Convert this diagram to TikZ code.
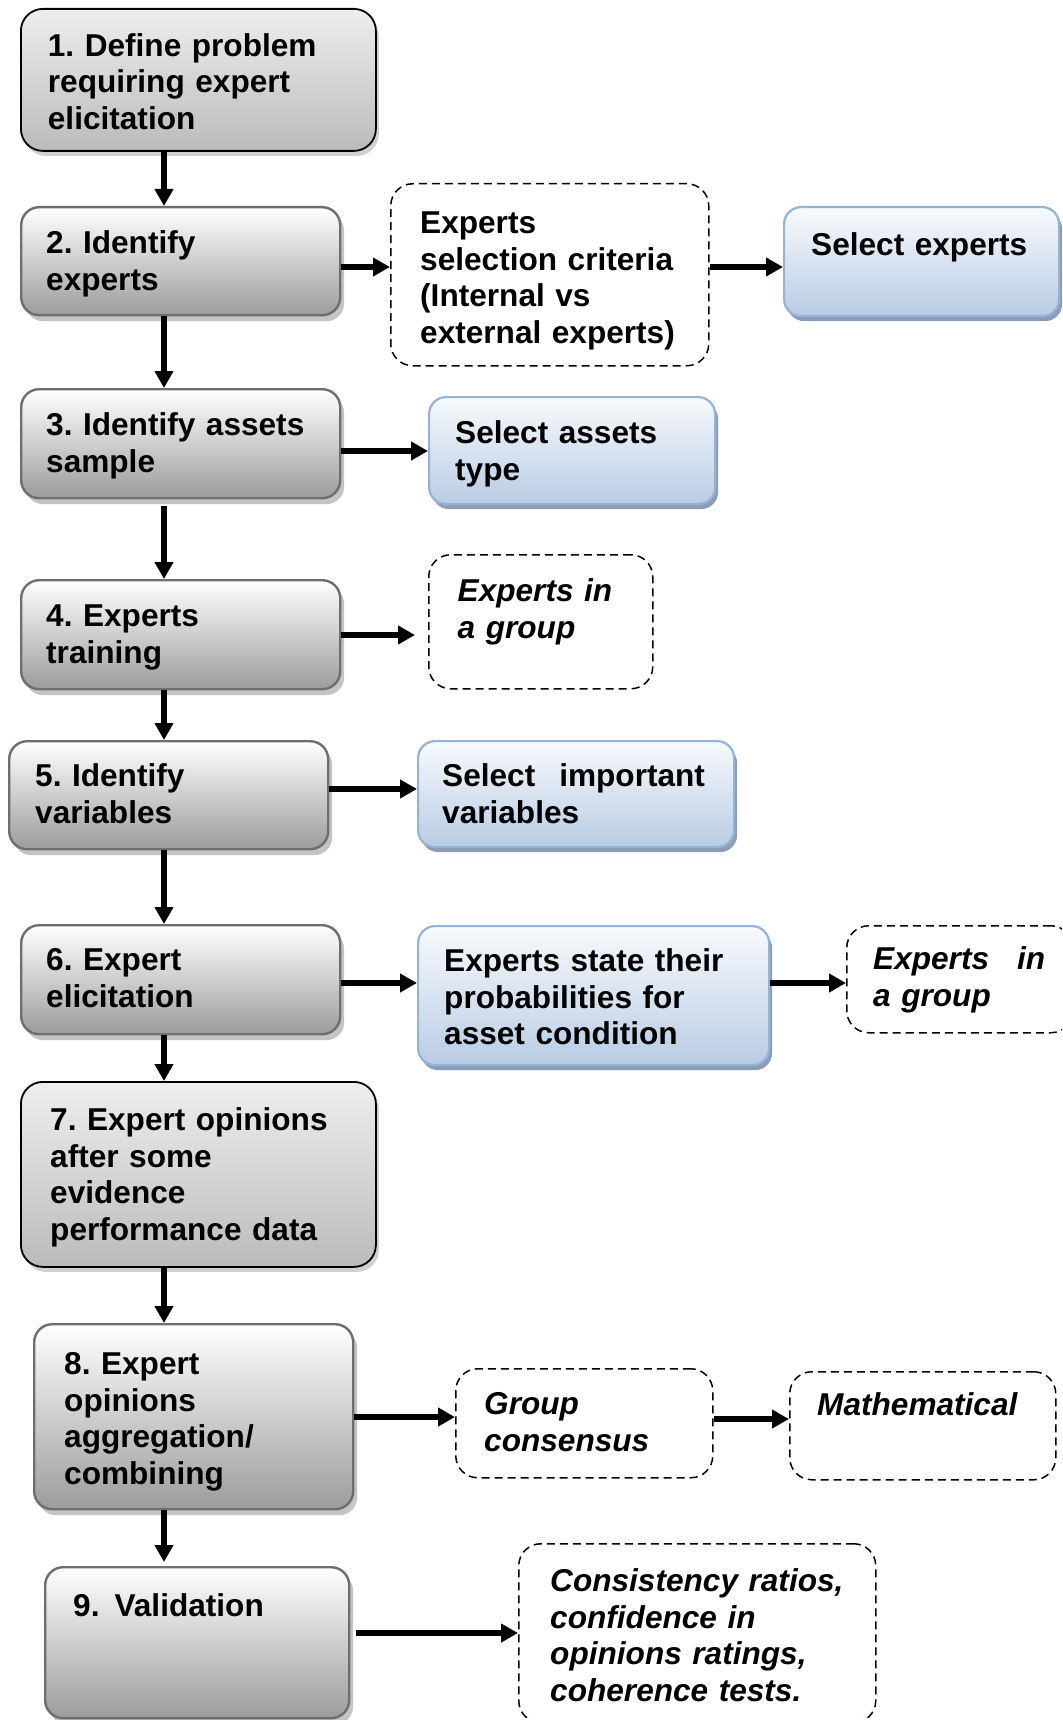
\documentclass[tikz,border=0pt]{standalone}
\usepackage{fontspec}
\setmainfont{Liberation Sans}
\usetikzlibrary{arrows.meta,shadows}

\definecolor{grayedge}{HTML}{6E6E6E}
\definecolor{graylow}{HTML}{9C9C9C}
\definecolor{lighttop}{HTML}{EEEEEE}
\definecolor{lightlow}{HTML}{BBBBBB}
\definecolor{blueedge}{HTML}{95B3D7}
\definecolor{bluetop}{HTML}{F8FAFD}
\definecolor{bluelow}{HTML}{B8CCE4}
\definecolor{blueshadow}{HTML}{8C9DB5}
\definecolor{grayshadow}{HTML}{C4C4C4}
\definecolor{softshadow}{HTML}{D0D0D0}

\tikzset{
  panel/.style={rectangle, anchor=north west, inner sep=0pt},
  stepbox/.style={panel, rounded corners=18pt, draw=grayedge, line width=2.4pt,
    top color=white, bottom color=graylow,
    drop shadow={shadow xshift=4pt, shadow yshift=-6pt, fill=grayshadow, opacity=1}},
  keybox/.style={panel, rounded corners=22pt, draw=black, line width=1.8pt,
    top color=lighttop, bottom color=lightlow,
    drop shadow={shadow xshift=3pt, shadow yshift=-5pt, fill=softshadow, opacity=1}},
  bluebox/.style={panel, rounded corners=17pt, draw=blueedge, line width=2.2pt,
    top color=bluetop, bottom color=bluelow,
    drop shadow={shadow xshift=3pt, shadow yshift=-5pt, fill=blueshadow, opacity=1}},
  notebox/.style={panel, rounded corners=22pt, draw=black, line width=1.5pt,
    dash pattern=on 8pt off 5pt},
  lbl/.style={anchor=north west, yshift=25.76pt, inner sep=0pt, text width=420pt,
    align=left, font=\frenchspacing\bfseries\fontsize{31.6}{36.8}\selectfont},
  ilbl/.style={lbl, font=\frenchspacing\bfseries\itshape\fontsize{31.6}{36.8}\selectfont},
  arr/.style={line width=6pt, -{Triangle[length=17pt,width=18pt]}}
}

\begin{document}
\frenchspacing
\begin{tikzpicture}[x=1pt, y=-1pt]
\path[use as bounding box, fill=white] (0,0) rectangle (1062,1720);
\clip (0,0) rectangle (1062,1720);

% main column of steps
\node[keybox,  minimum width=355pt, minimum height=142pt] (s1) at (20,8) {};
\node[stepbox, minimum width=319pt, minimum height=108pt] (s2) at (20,206) {};
\node[stepbox, minimum width=319pt, minimum height=109pt] (s3) at (20,388) {};
\node[stepbox, minimum width=319pt, minimum height=109pt] (s4) at (20,579) {};
\node[stepbox, minimum width=319pt, minimum height=108pt] (s5) at (8,740) {};
\node[stepbox, minimum width=319pt, minimum height=109pt] (s6) at (20,924) {};
\node[keybox,  minimum width=355pt, minimum height=185pt] (s7) at (20,1081) {};
\node[stepbox, minimum width=319pt, minimum height=185pt] (s8) at (33,1323) {};
\node[stepbox, minimum width=304pt, minimum height=151pt] (s9) at (44,1566) {};

% side boxes
\node[notebox, minimum width=318pt, minimum height=182pt] (d1) at (390,183) {};
\node[bluebox, minimum width=275pt, minimum height=109pt] (b1) at (783,206) {};
\node[bluebox, minimum width=286pt, minimum height=107pt] (b2) at (428,396) {};
\node[notebox, minimum width=224pt, minimum height=134pt] (d2) at (428,554) {};
\node[bluebox, minimum width=316pt, minimum height=106pt] (b3) at (417,740) {};
\node[bluebox, minimum width=351pt, minimum height=139pt] (b4) at (417,925) {};
\node[notebox, minimum width=226pt, minimum height=107pt] (d3) at (846,925) {};
\node[notebox, minimum width=257pt, minimum height=109pt] (g) at (455,1368) {};
\node[notebox, minimum width=266pt, minimum height=108pt] (m) at (789,1371) {};
\node[notebox, minimum width=357pt, minimum height=179pt] (c) at (518,1543) {};

% labels
\node[lbl] (t1) at (47.7,56) {\strut 1. Define problem\\requiring expert\\elicitation};
\node[lbl] (t2) at (46,253) {\strut 2. Identify\\experts};
\node[lbl] (t3) at (46,435) {\strut 3. Identify assets\\sample};
\node[lbl] (t4) at (46,626) {\strut 4. Experts\\training};
\node[lbl] (t5) at (35,786) {\strut 5. Identify\\variables};
\node[lbl] (t6) at (46,970) {\strut 6. Expert\\elicitation};
\node[lbl] (t7) at (50,1130) {\strut 7. Expert opinions\\after some\\evidence\\performance data};
\node[lbl] (t8) at (64,1374) {\strut 8. Expert\\opinions\\aggregation/\\combining};
\node[lbl] (t9) at (73,1616) {\strut 9.\hspace{15pt}Validation};

\node[lbl] (td1) at (420,233) {\strut Experts\\selection criteria\\(Internal vs\\external experts)};
\node[lbl] (tb1) at (811,255) {\strut Select experts};
\node[lbl] (tb2) at (455,443) {\strut Select assets\\type};
\node[ilbl] (td2) at (457.5,601) {\strut Experts in\\a group};
\node[lbl] (tb3) at (442,786) {\strut Select\hspace{24pt}important\\variables};
\node[lbl] (tb4) at (444,971) {\strut Experts state their\\probabilities for\\asset condition};
\node[ilbl] (td3) at (873,969) {\strut Experts\hspace{28pt}in\\a group};
\node[ilbl] (tg) at (484,1414) {\strut Group\\consensus};
\node[ilbl] (tm) at (817,1415) {\strut Mathematical};
\node[ilbl] (tc) at (550,1591) {\strut Consistency ratios,\\confidence in\\opinions ratings,\\coherence tests.};

% guide coordinates for the connectors
\coordinate (spine) at (164,0);
\coordinate (r2) at (0,267);
\coordinate (r3) at (0,451);
\coordinate (r4) at (0,635);
\coordinate (r5) at (0,789);
\coordinate (r6) at (0,983);
\coordinate (r8) at (0,1417);
\coordinate (r8b) at (0,1419);
\coordinate (r9) at (0,1633);

% downward flow
\draw[arr] (s1.south -| spine) -- (s2.north -| spine);
\draw[arr] (s2.south -| spine) -- (s3.north -| spine);
\draw[arr, shorten <=7pt] (s3.south -| spine) -- (s4.north -| spine);
\draw[arr] (s4.south -| spine) -- (s5.north -| spine);
\draw[arr] (s5.south -| spine) -- (s6.north -| spine);
\draw[arr] (s6.south -| spine) -- (s7.north -| spine);
\draw[arr] (s7.south -| spine) -- (s8.north -| spine);
\draw[arr, shorten >=4pt] (s8.south -| spine) -- (s9.north -| spine);

% side connectors
\draw[arr] (s2.east |- r2) -- (d1.west |- r2);
\draw[arr] (d1.east |- r2) -- (b1.west |- r2);
\draw[arr] (s3.east |- r3) -- (b2.west |- r3);
\draw[arr, shorten >=13pt] (s4.east |- r4) -- (d2.west |- r4);
\draw[arr] (s5.east |- r5) -- (b3.west |- r5);
\draw[arr] (s6.east |- r6) -- (b4.west |- r6);
\draw[arr] (b4.east |- r6) -- (d3.west |- r6);
\draw[arr] (s8.east |- r8) -- (g.west |- r8);
\draw[arr] (g.east |- r8b) -- (m.west |- r8b);
\draw[arr, shorten <=6pt] (s9.east |- r9) -- (c.west |- r9);
\end{tikzpicture}
\end{document}
